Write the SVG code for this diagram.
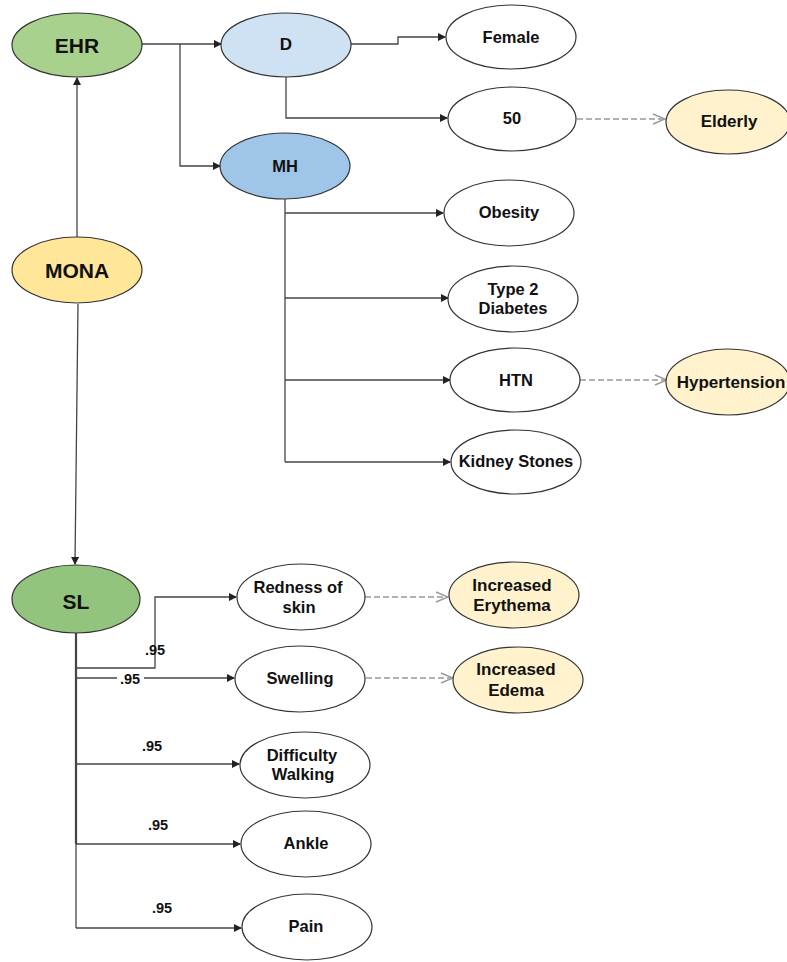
<svg xmlns="http://www.w3.org/2000/svg" width="787" height="962" viewBox="0 0 787 962">
<style>
  .n { stroke:#333; stroke-width:1.2; }
  .w { fill:#fff; }
  .y { fill:#fff2cc; }
  .t { font-family:"Liberation Sans", Arial, sans-serif; font-weight:bold; fill:#111; text-anchor:middle; dominant-baseline:central; }
  .big { font-size:21px; }
  .mid { font-size:16.5px; }
  .yl { font-size:17px; }
  .c { fill:none; stroke:#444; stroke-width:1.3; }
  .d { fill:none; stroke:#999; stroke-width:1.6; stroke-dasharray:6 3; }
  .lbl { font-family:"Liberation Sans", Arial, sans-serif; font-weight:bold; font-size:14.5px; fill:#111; text-anchor:middle; dominant-baseline:central; }
</style>
<defs>
  <marker id="ar" markerWidth="8" markerHeight="8" refX="7" refY="4" orient="auto" markerUnits="userSpaceOnUse">
    <path d="M0,0 L8,4 L0,8 z" fill="#222"/>
  </marker>
  <marker id="op" markerWidth="14" markerHeight="12" refX="13" refY="6" orient="auto" markerUnits="userSpaceOnUse">
    <path d="M1,1 L13,6 L1,11" fill="none" stroke="#999" stroke-width="1.4"/>
  </marker>
</defs>
<rect width="787" height="962" fill="#fff"/>

<g id="connectors">
  <path class="c" d="M142,44 H221" marker-end="url(#ar)"/>
  <path class="c" d="M180,44 V166 H220" marker-end="url(#ar)"/>
  <path class="c" d="M351,44 H398 V37 H445" marker-end="url(#ar)"/>
  <path class="c" d="M286,77 V118 H447" marker-end="url(#ar)"/>
  <path class="d" d="M577,119 H665" marker-end="url(#op)"/>
  <path class="c" d="M77,237 V78" marker-end="url(#ar)"/>
  <path class="c" d="M78,304 L75,564" marker-end="url(#ar)"/>
  <path class="c" d="M285,199 V462" stroke-width="1.6"/>
  <path class="c" d="M285,213 H443" marker-end="url(#ar)"/>
  <path class="c" d="M285,298 H448" marker-end="url(#ar)"/>
  <path class="c" d="M285,380 H450" marker-end="url(#ar)"/>
  <path class="c" d="M285,462 H450" marker-end="url(#ar)"/>
  <path class="d" d="M580,380 H667" marker-end="url(#op)"/>
  <path class="c" d="M76,633 V928" style="stroke-width:1.3"/>
  <path class="c" d="M76,633 V844" style="stroke-width:2.2"/>
  <path class="c" d="M76,668 H155 V597 H236" marker-end="url(#ar)"/>
  <path class="c" d="M76,678 H234" marker-end="url(#ar)"/>
  <path class="d" d="M365,597 H448" marker-end="url(#op)"/>
  <path class="d" d="M366,678 H453" marker-end="url(#op)"/>
  <path class="c" d="M76,764 H239" marker-end="url(#ar)"/>
  <path class="c" d="M76,844 H240" marker-end="url(#ar)"/>
  <path class="c" d="M76,928 H241" marker-end="url(#ar)"/>
  <rect x="117" y="671" width="27" height="14" fill="#fff"/>
  <text class="lbl" x="130" y="679">.95</text>
  <text class="lbl" x="155" y="650">.95</text>
  <text class="lbl" x="152" y="746">.95</text>
  <text class="lbl" x="158" y="825">.95</text>
  <text class="lbl" x="162" y="908">.95</text>
</g>

<g id="EHR"><ellipse class="n" cx="77" cy="45" rx="65" ry="32" fill="#a9d18e"/><text class="t big" x="77" y="45">EHR</text></g>
<g id="D"><ellipse class="n" cx="286" cy="45" rx="65" ry="32" fill="#cfe2f3"/><text class="t" style="font-size:17px" x="286" y="44">D</text></g>
<g id="MH"><ellipse class="n" cx="285" cy="166" rx="65" ry="33" fill="#9fc5e8"/><text class="t" style="font-size:16.5px" x="285" y="166">MH</text></g>
<g id="Female"><ellipse class="n w" cx="511" cy="37" rx="65" ry="32"/><text class="t mid" x="511" y="37">Female</text></g>
<g id="N50"><ellipse class="n w" cx="512" cy="119" rx="64" ry="32"/><text class="t mid" x="512" y="118">50</text></g>
<g id="Elderly"><ellipse class="n y" cx="728" cy="122" rx="62" ry="32"/><text class="t yl" x="729" y="121">Elderly</text></g>
<g id="MONA"><ellipse class="n" cx="77" cy="270" rx="65" ry="33" fill="#ffe699"/><text class="t big" x="77" y="270">MONA</text></g>
<g id="Obesity"><ellipse class="n w" cx="509" cy="213" rx="65" ry="33"/><text class="t mid" x="509" y="212">Obesity</text></g>
<g id="Type2Diabetes"><ellipse class="n w" cx="513" cy="299" rx="65" ry="33"/><text class="t mid" x="513" y="289">Type 2</text><text class="t mid" x="513" y="308">Diabetes</text></g>
<g id="HTN"><ellipse class="n w" cx="515" cy="380" rx="65" ry="32"/><text class="t mid" x="516" y="380">HTN</text></g>
<g id="Hypertension"><ellipse class="n y" cx="728" cy="382" rx="62" ry="33"/><text class="t yl" x="731" y="382">Hypertension</text></g>
<g id="KidneyStones"><ellipse class="n w" cx="516" cy="462" rx="65" ry="32"/><text class="t mid" x="516" y="461">Kidney Stones</text></g>
<g id="SL"><ellipse class="n" cx="76" cy="599" rx="64" ry="34" fill="#93c47d"/><text class="t big" x="76" y="601">SL</text></g>
<g id="Redness"><ellipse class="n w" cx="301" cy="597" rx="64" ry="33"/><text class="t mid" x="298" y="587">Redness of</text><text class="t mid" x="299" y="607">skin</text></g>
<g id="Swelling"><ellipse class="n w" cx="300" cy="679" rx="65" ry="33"/><text class="t mid" x="300" y="678">Swelling</text></g>
<g id="Erythema"><ellipse class="n y" cx="514" cy="595" rx="65" ry="33"/><text class="t yl" x="512" y="585">Increased</text><text class="t yl" x="512" y="605">Erythema</text></g>
<g id="Edema"><ellipse class="n y" cx="518" cy="680" rx="65" ry="33"/><text class="t yl" x="516" y="669">Increased</text><text class="t yl" x="516" y="690">Edema</text></g>
<g id="DifficultyWalking"><ellipse class="n w" cx="305" cy="765" rx="65" ry="33"/><text class="t mid" x="302" y="755">Difficulty</text><text class="t mid" x="303" y="774">Walking</text></g>
<g id="Ankle"><ellipse class="n w" cx="306" cy="844" rx="65" ry="33"/><text class="t mid" x="306" y="843">Ankle</text></g>
<g id="Pain"><ellipse class="n w" cx="307" cy="927" rx="65" ry="33"/><text class="t mid" x="306" y="926">Pain</text></g>
</svg>
